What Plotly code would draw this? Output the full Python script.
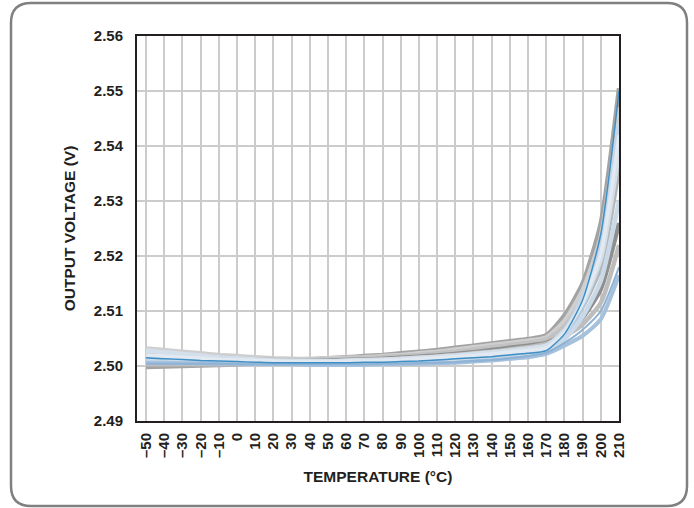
import plotly.graph_objects as go

temps = [-50, -40, -30, -20, -10, 0, 10, 20, 30, 40, 50, 60, 70, 80, 90, 100,
         110, 120, 130, 140, 150, 160, 170, 180, 190, 200, 210]
tick_vals = temps
tick_text = ["–50", "–40", "–30", "–20", "–10", "0", "10", "20", "30", "40", "50",
             "60", "70", "80", "90", "100", "110", "120", "130", "140", "150",
             "160", "170", "180", "190", "200", "210"]
y_ticks = [2.49, 2.50, 2.51, 2.52, 2.53, 2.54, 2.55, 2.56]

unit_a = [2.4998, 2.4999, 2.5000, 2.5001, 2.5002, 2.5003, 2.5005, 2.5007, 2.5010, 2.5012, 2.5014,
          2.5016, 2.5018, 2.5020, 2.5023, 2.5026, 2.5029, 2.5033, 2.5037, 2.5041, 2.5045, 2.5049,
          2.5056, 2.5092, 2.5150, 2.5260, 2.5505]
unit_b = [2.5032, 2.5029, 2.5026, 2.5023, 2.5020, 2.5018, 2.5016, 2.5014, 2.5013, 2.5013, 2.5014,
          2.5015, 2.5016, 2.5018, 2.5020, 2.5023, 2.5026, 2.5030, 2.5034, 2.5038, 2.5042, 2.5046,
          2.5052, 2.5082, 2.5138, 2.5235, 2.5470]
unit_c = [2.5025, 2.5022, 2.5020, 2.5018, 2.5016, 2.5014, 2.5012, 2.5011, 2.5010, 2.5010, 2.5011,
          2.5012, 2.5013, 2.5015, 2.5017, 2.5019, 2.5022, 2.5025, 2.5029, 2.5033, 2.5037, 2.5041,
          2.5047, 2.5068, 2.5108, 2.5180, 2.5360]
unit_d = [2.5010, 2.5010, 2.5009, 2.5009, 2.5008, 2.5008, 2.5008, 2.5008, 2.5008, 2.5009, 2.5010,
          2.5011, 2.5012, 2.5013, 2.5015, 2.5017, 2.5019, 2.5022, 2.5025, 2.5029, 2.5033, 2.5037,
          2.5042, 2.5058, 2.5088, 2.5140, 2.5260]
unit_e = [2.5003, 2.5003, 2.5003, 2.5003, 2.5003, 2.5003, 2.5004, 2.5005, 2.5006, 2.5007, 2.5008,
          2.5009, 2.5010, 2.5011, 2.5013, 2.5015, 2.5017, 2.5020, 2.5023, 2.5026, 2.5030, 2.5034,
          2.5040, 2.5054, 2.5076, 2.5115, 2.5220]
unit_f = [2.5018, 2.5016, 2.5014, 2.5012, 2.5011, 2.5010, 2.5009, 2.5008, 2.5007, 2.5007, 2.5007,
          2.5008, 2.5008, 2.5009, 2.5010, 2.5011, 2.5013, 2.5015, 2.5017, 2.5019, 2.5022, 2.5025,
          2.5030, 2.5062, 2.5125, 2.5220, 2.5440]
unit_g = [2.5012, 2.5011, 2.5010, 2.5009, 2.5008, 2.5007, 2.5006, 2.5005, 2.5005, 2.5004, 2.5004,
          2.5004, 2.5005, 2.5005, 2.5006, 2.5007, 2.5008, 2.5010, 2.5012, 2.5014, 2.5017, 2.5020,
          2.5024, 2.5052, 2.5108, 2.5195, 2.5400]
unit_h = [2.5006, 2.5006, 2.5005, 2.5005, 2.5004, 2.5004, 2.5003, 2.5003, 2.5003, 2.5002, 2.5002,
          2.5002, 2.5002, 2.5003, 2.5003, 2.5004, 2.5005, 2.5006, 2.5008, 2.5010, 2.5013, 2.5016,
          2.5022, 2.5037, 2.5055, 2.5085, 2.5165]
unit_i = [2.5020, 2.5018, 2.5016, 2.5014, 2.5012, 2.5011, 2.5010, 2.5009, 2.5008, 2.5008, 2.5008,
          2.5009, 2.5009, 2.5010, 2.5011, 2.5013, 2.5015, 2.5017, 2.5019, 2.5022, 2.5025, 2.5028,
          2.5033, 2.5060, 2.5115, 2.5205, 2.5420]
unit_j = [2.5028, 2.5025, 2.5022, 2.5019, 2.5016, 2.5014, 2.5012, 2.5010, 2.5009, 2.5009, 2.5009,
          2.5010, 2.5011, 2.5012, 2.5013, 2.5015, 2.5017, 2.5019, 2.5022, 2.5025, 2.5028, 2.5032,
          2.5037, 2.5064, 2.5115, 2.5195, 2.5390]
unit_k = [2.5004, 2.5004, 2.5004, 2.5004, 2.5004, 2.5003, 2.5003, 2.5003, 2.5003, 2.5003, 2.5003,
          2.5003, 2.5003, 2.5004, 2.5004, 2.5005, 2.5006, 2.5007, 2.5009, 2.5011, 2.5014, 2.5018,
          2.5024, 2.5042, 2.5066, 2.5100, 2.5180]
unit_l = [2.5008, 2.5007, 2.5006, 2.5005, 2.5005, 2.5004, 2.5004, 2.5004, 2.5004, 2.5004, 2.5004,
          2.5004, 2.5005, 2.5005, 2.5006, 2.5007, 2.5008, 2.5010, 2.5012, 2.5014, 2.5016, 2.5018,
          2.5021, 2.5050, 2.5104, 2.5195, 2.5420]
unit_m = [2.5015, 2.5013, 2.5012, 2.5010, 2.5009, 2.5008, 2.5007, 2.5006, 2.5006, 2.5006, 2.5006,
          2.5006, 2.5007, 2.5007, 2.5008, 2.5009, 2.5011, 2.5013, 2.5015, 2.5017, 2.5020, 2.5023,
          2.5028, 2.5058, 2.5120, 2.5240, 2.5500]
unit_n = [2.5022, 2.5020, 2.5018, 2.5016, 2.5014, 2.5013, 2.5012, 2.5011, 2.5011, 2.5011, 2.5012,
          2.5013, 2.5014, 2.5016, 2.5018, 2.5020, 2.5023, 2.5026, 2.5030, 2.5034, 2.5038, 2.5042,
          2.5048, 2.5072, 2.5122, 2.5205, 2.5410]
unit_o = [2.5009, 2.5008, 2.5007, 2.5007, 2.5006, 2.5006, 2.5005, 2.5005, 2.5005, 2.5005, 2.5005,
          2.5006, 2.5006, 2.5007, 2.5008, 2.5009, 2.5010, 2.5012, 2.5014, 2.5016, 2.5019, 2.5022,
          2.5027, 2.5048, 2.5090, 2.5155, 2.5300]

series = [
    (unit_a, "#a3a3a3", 4.5),
    (unit_b, "#cfcfcf", 4.5),
    (unit_c, "#b6b6b6", 4.5),
    (unit_n, "#c2c2c2", 4.5),
    (unit_d, "#8f8f8f", 4.5),
    (unit_e, "#bdbdbd", 4.5),
    (unit_l, "#3a3a3a", 1.5),
    (unit_f, "#c6d6e6", 4.5),
    (unit_g, "#b5cbe0", 4.5),
    (unit_o, "#cad9e8", 4.5),
    (unit_j, "#d3dfeb", 4.5),
    (unit_i, "#e3e9f0", 3.5),
    (unit_h, "#a6c1db", 4),
    (unit_k, "#8db2d5", 2),
    (unit_m, "#3d8fc6", 1.5),
]

fig = go.Figure()
for vals, col, w in series:
    fig.add_trace(go.Scatter(x=temps, y=vals, mode="lines",
                             line=dict(color=col, width=w, shape="spline", smoothing=0.6),
                             showlegend=False, hoverinfo="skip"))

font_main = "Liberation Sans, Arial, sans-serif"
fig.update_layout(
    width=694, height=508,
    margin=dict(l=137, r=75, t=36, b=87),
    paper_bgcolor="white", plot_bgcolor="white",
    font=dict(family=font_main, color="#231f20"),
    xaxis=dict(range=[-55, 210], tickmode="array", tickvals=tick_vals, ticktext=tick_text,
               tickangle=-90, tickfont=dict(size=15, family=font_main, weight="bold"),
               showgrid=True, gridcolor="#cccccc", gridwidth=1.5,
               showline=True, linecolor="#231f20", linewidth=2, mirror=True,
               ticks="", zeroline=False, ticklabelstandoff=4,
               title=dict(text="<b>TEMPERATURE (°C)</b>", font=dict(size=15.5), standoff=14)),
    yaxis=dict(range=[2.49, 2.56], tickmode="array", tickvals=y_ticks,
               ticktext=[f"{v:.2f}" for v in y_ticks],
               tickfont=dict(size=15, family=font_main, weight="bold"),
               showgrid=True, gridcolor="#cccccc", gridwidth=1.5,
               showline=True, linecolor="#231f20", linewidth=2, mirror=True,
               ticks="", zeroline=False, ticklabelstandoff=9,
               title=dict(text="<b>OUTPUT VOLTAGE (V)</b>", font=dict(size=15.5), standoff=14)),
)

# rounded frame around the whole figure (paper coordinates)
x0, x1 = -0.2614, 1.1411
y0, y1 = -0.2208, 1.0857
rx, ry = 20 / 482, 20 / 385
path = (f"M {x0+rx},{y0} L {x1-rx},{y0} Q {x1},{y0} {x1},{y0+ry} "
        f"L {x1},{y1-ry} Q {x1},{y1} {x1-rx},{y1} "
        f"L {x0+rx},{y1} Q {x0},{y1} {x0},{y1-ry} "
        f"L {x0},{y0+ry} Q {x0},{y0} {x0+rx},{y0} Z")
fig.add_shape(type="path", path=path, xref="paper", yref="paper",
              line=dict(color="#808080", width=2.5), layer="below")

fig.write_html("out.html", config={"displayModeBar": False},
               post_script="document.body.style.margin='0px';document.body.style.padding='0px';")
